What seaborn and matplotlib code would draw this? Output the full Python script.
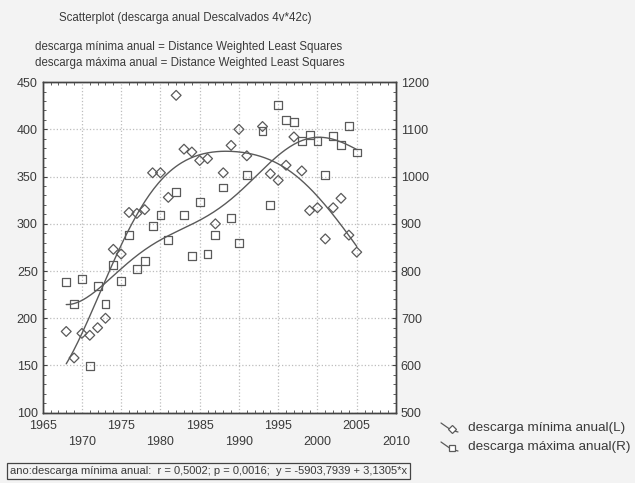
import numpy as np
import pandas as pd
import matplotlib
matplotlib.use("Agg")
import matplotlib.pyplot as plt
import seaborn as sns
from matplotlib.lines import Line2D
from matplotlib.ticker import MultipleLocator
from matplotlib import font_manager

# Annual discharge at Descalvados (minimum on left axis, maximum on right axis)
years = [1968, 1969, 1970, 1971, 1972, 1973, 1974, 1975, 1976, 1977, 1978, 1979,
         1980, 1981, 1982, 1983, 1984, 1985, 1986, 1987, 1988, 1989, 1990, 1991,
         1993, 1994, 1995, 1996, 1997, 1998, 1999, 2000, 2001, 2002, 2003, 2004, 2005]
min_discharge = [186, 158, 184, 182, 190, 200, 273, 268, 312, 311, 315, 354,
                 354, 328, 436, 379, 376, 367, 369, 300, 354, 383, 400, 372,
                 403, 353, 346, 362, 392, 356, 314, 317, 284, 317, 327, 288, 270]
max_discharge = [776, 731, 783, 599, 768, 731, 812, 779, 876, 804, 822, 895,
                 918, 866, 968, 918, 832, 947, 836, 876, 977, 913, 860, 1003,
                 1096, 939, 1152, 1120, 1116, 1076, 1088, 1076, 1003, 1086, 1067, 1107, 1051]

title_text = "Scatterplot (descarga anual Descalvados 4v*42c)"
fit_lines = ["descarga mínima anual = Distance Weighted Least Squares",
             "descarga máxima anual = Distance Weighted Least Squares"]
legend_labels = ["descarga mínima anual(L)", "descarga máxima anual(R)"]
stats_text = "ano:descarga mínima anual:  r = 0,5002; p = 0,0016;  y = -5903,7939 + 3,1305*x"


def dwls(x, y, grid, h=6.5):
    """Distance weighted least squares: local quadratic fit at each grid point."""
    x = np.asarray(x, float)
    y = np.asarray(y, float)
    out = []
    for x0 in grid:
        w = np.exp(-0.5 * ((x - x0) / h) ** 2)
        X = np.vstack([np.ones_like(x), x - x0, (x - x0) ** 2]).T
        W = np.sqrt(w)
        coef, *_ = np.linalg.lstsq(X * W[:, None], y * W, rcond=None)
        out.append(coef[0])
    return np.array(out)


df = pd.DataFrame({"ano": years, "min": min_discharge, "max": max_discharge})
grid = np.linspace(min(years), max(years), 200)
smooth = pd.DataFrame({"ano": grid,
                       "min": dwls(df["ano"], df["min"], grid),
                       "max": dwls(df["ano"], df["max"], grid)})

sns.set_style("white")
names = {f.name for f in font_manager.fontManager.ttflist}
if "Liberation Sans Narrow" in names:
    plt.rcParams["font.family"] = ["Liberation Sans Narrow", "DejaVu Sans"]
    FS = 10
else:
    plt.rcParams["font.family"] = ["Liberation Sans", "DejaVu Sans"]
    FS = 8.3
TXT = "#3a3a3a"
EDGE = "#5a5a5a"

fig = plt.figure(figsize=(6.35, 4.83), dpi=100, facecolor="#f3f3f3")
ax = fig.add_axes([0.0672, 0.1455, 0.5564, 0.6845])
ax.set_facecolor("white")
ax2 = ax.twinx()

sns.lineplot(data=smooth, x="ano", y="min", ax=ax, color=EDGE, lw=1.0)
sns.scatterplot(data=df, x="ano", y="min", ax=ax, marker="D", s=25,
                facecolor="none", edgecolor=EDGE, linewidth=0.9)
sns.lineplot(data=smooth, x="ano", y="max", ax=ax2, color=EDGE, lw=1.0)
sns.scatterplot(data=df, x="ano", y="max", ax=ax2, marker="s", s=32,
                facecolor="none", edgecolor=EDGE, linewidth=0.9)

ax.set_xlim(1965, 2010)
ax.set_ylim(100, 450)
ax2.set_ylim(500, 1200)
ax.set_xlabel("")
ax.set_ylabel("")
ax2.set_ylabel("")

xt = list(range(1965, 2011, 5))
ax.set_xticks(xt)
ax.set_xticklabels([str(v) if i % 2 == 0 else "\n" + str(v) for i, v in enumerate(xt)],
                   linespacing=1.45)
ax.set_yticks(range(100, 451, 50))
ax2.set_yticks(range(500, 1201, 100))
ax.xaxis.set_minor_locator(MultipleLocator(1))
ax.yaxis.set_minor_locator(MultipleLocator(10))
ax2.yaxis.set_minor_locator(MultipleLocator(20))

ax.grid(True, which="major", color="#bdbdbd", ls=":", lw=0.9)
for a in (ax, ax2):
    for sp in a.spines.values():
        sp.set_color("#444444")
        sp.set_linewidth(1.0)
ax.tick_params(which="both", direction="in", top=True, bottom=True, left=True,
               right=False, colors="#444444", labelcolor=TXT, labelsize=FS + 0.7)
ax.tick_params(which="major", length=3)
ax.tick_params(which="minor", length=2)
ax.tick_params(axis="x", which="major", length=0, pad=5)
ax2.tick_params(which="both", direction="in", right=True, colors="#444444",
                labelcolor=TXT, labelsize=FS + 0.7)
ax2.tick_params(which="major", length=3)
ax2.tick_params(which="minor", length=2)
ax.set_zorder(1)
ax2.set_zorder(2)
ax2.patch.set_visible(False)

fig.text(185 / 635, 1 - 18 / 483, title_text, ha="center", va="center", fontsize=FS, color=TXT)
fig.text(35 / 635, 1 - 47 / 483, fit_lines[0], ha="left", va="center", fontsize=FS, color=TXT)
fig.text(35 / 635, 1 - 63 / 483, fit_lines[1], ha="left", va="center", fontsize=FS, color=TXT)

# legend: slanted line segment with the series marker at its end
for k, (mk, lab) in enumerate(zip(["D", "s"], legend_labels)):
    yo = k * 19
    fig.add_artist(Line2D([441 / 635, 451 / 635, 458 / 635],
                          [1 - (423 + yo) / 483, 1 - (430 + yo) / 483, 1 - (432 + yo) / 483],
                          color=EDGE, lw=0.9))
    fig.add_artist(Line2D([452 / 635], [1 - (429 + yo) / 483], marker=mk,
                          markersize=4 if mk == "D" else 4.5, markerfacecolor="white",
                          markeredgecolor=EDGE, markeredgewidth=0.9, color=EDGE))
    fig.text(468 / 635, 1 - (428 + yo) / 483, lab, ha="left", va="center",
             fontsize=FS * 1.17, color=TXT)

fig.text(10 / 635, 1 - 471 / 483, stats_text, ha="left", va="center", fontsize=FS * 0.97,
         color=TXT, bbox=dict(boxstyle="square,pad=0.25", facecolor="none",
                              edgecolor="#444444", lw=0.9))

fig.savefig("out.png", dpi=100, facecolor=fig.get_facecolor())
